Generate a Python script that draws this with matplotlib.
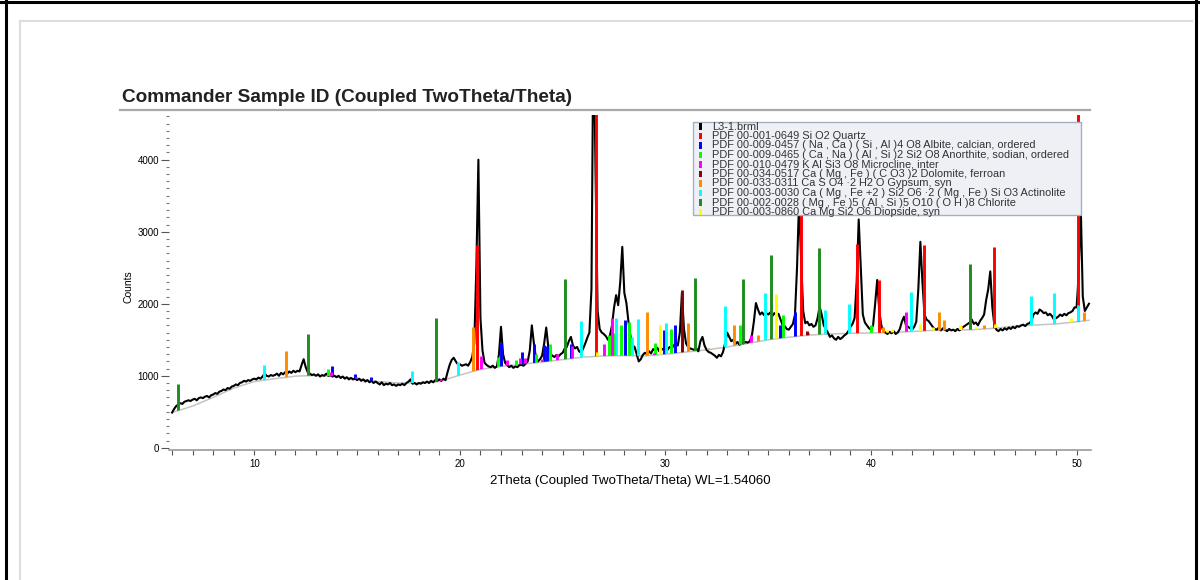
import numpy as np
import matplotlib
matplotlib.use("Agg")
import matplotlib.pyplot as plt
from matplotlib.patches import Polygon, Rectangle
from matplotlib.lines import Line2D
from matplotlib.ticker import MultipleLocator

plt.rcParams['font.family'] = ['Liberation Sans', 'DejaVu Sans']

# Scan L3-1.brml, 2Theta 6.0 - 50.6, step 0.1
two_theta = np.round(np.arange(6.0, 50.65, 0.1), 2)
counts = [
    490, 540, 580, 600, 620, 610, 640, 650, 660, 650,            # 6
    670, 680, 660, 690, 700, 690, 710, 720, 700, 730,            # 7
    740, 760, 750, 780, 790, 810, 800, 830, 820, 850,            # 8
    860, 880, 870, 900, 910, 930, 920, 940, 930, 950,            # 9
    960, 950, 975, 960, 990, 1030, 1000, 990, 1010, 1000,        # 10
    1010, 1030, 1000, 1040, 1020, 1050, 1030, 1060, 1040, 1070,  # 11
    1050, 1070, 1060, 1150, 1230, 1120, 1050, 1030, 1010, 1020,  # 12
    1000, 1020, 990, 1010, 1000, 1030, 1000, 1010, 990, 1000,    # 13
    980, 1000, 970, 990, 960, 980, 950, 970, 950, 960,           # 14
    940, 960, 930, 950, 920, 940, 910, 930, 900, 920,            # 15
    900, 880, 910, 870, 890, 880, 900, 870, 880, 860,            # 16
    880, 870, 890, 870, 900, 920, 950, 890, 900, 880,            # 17
    900, 890, 910, 900, 920, 900, 930, 910, 940, 930,            # 18
    950, 930, 960, 940, 1050, 1150, 1220, 1250, 1200, 1160,      # 19
    1160, 1140, 1150, 1160, 1140, 1190, 1260, 1450, 2500, 4000,  # 20
    1800, 1350, 1180, 1150, 1130, 1120, 1140, 1110, 1130, 1300,  # 21
    1680, 1300, 1180, 1150, 1120, 1140, 1110, 1130, 1120, 1150,  # 22
    1150, 1140, 1170, 1200, 1350, 1700, 1450, 1250, 1200, 1230,  # 23
    1280, 1450, 1670, 1400, 1300, 1280, 1260, 1290, 1270, 1300,  # 24
    1320, 1380, 1400, 1480, 1540, 1420, 1380, 1400, 1340, 1320,  # 25
    1380, 1450, 1530, 1600, 2200, 6000, 3800, 1900, 1650, 1600,  # 26
    1580, 1550, 1500, 1560, 1700, 1950, 2120, 1980, 2300, 2790,  # 27
    2150, 2010, 1750, 1550, 1420, 1400, 1300, 1200, 1230, 1290,  # 28
    1320, 1300, 1340, 1310, 1370, 1350, 1390, 1340, 1380, 1360,  # 29
    1380, 1360, 1400, 1380, 1420, 1450, 1420, 1600, 2150, 1650,  # 30
    1450, 1400, 1380, 1370, 1360, 1380, 1340, 1480, 1540, 1420,  # 31
    1360, 1330, 1320, 1300, 1280, 1250, 1290, 1270, 1330, 1450,  # 32
    1600, 1540, 1480, 1500, 1440, 1470, 1430, 1460, 1450, 1470,  # 33
    1460, 1480, 1550, 1750, 2010, 1920, 1850, 1880, 1840, 1870,  # 34
    1850, 1880, 1830, 1870, 1840, 1860, 1780, 1700, 1690, 1650,  # 35
    1640, 1680, 1720, 1850, 2500, 3450, 2600, 1900, 1730, 1750,  # 36
    1700, 1720, 1680, 1700, 1800, 1960, 1850, 1700, 1650, 1600,  # 37
    1540, 1560, 1520, 1500, 1540, 1510, 1530, 1560, 1580, 1620,  # 38
    1680, 1720, 1800, 2300, 3170, 2500, 1850, 1740, 1700, 1660,  # 39
    1640, 1700, 2000, 2330, 1900, 1700, 1620, 1600, 1580, 1610,  # 40
    1590, 1620, 1580, 1600, 1650, 1750, 1820, 1700, 1680, 1660,  # 41
    1640, 1680, 1750, 2200, 2860, 2300, 1850, 1780, 1760, 1720,  # 42
    1680, 1650, 1640, 1670, 1630, 1660, 1640, 1620, 1650, 1630,  # 43
    1640, 1620, 1650, 1630, 1660, 1680, 1700, 1720, 1740, 1780,  # 44
    1720, 1740, 1700, 1760, 1800, 1850, 2050, 2200, 2450, 1950,  # 45
    1700, 1640, 1620, 1650, 1630, 1660, 1640, 1670, 1650, 1680,  # 46
    1660, 1690, 1680, 1700, 1710, 1690, 1720, 1730, 1760, 1850,  # 47
    1880, 1860, 1920, 1900, 1870, 1880, 1840, 1860, 1830, 1780,  # 48
    1800, 1820, 1850, 1830, 1860, 1840, 1870, 1880, 1900, 1950,  # 49
    1950, 2400, 3380, 2100, 1900, 1950, 2000,                    # 50
]

# background (gray curve)
bg_theta = [6, 7, 8, 9, 10, 11, 12, 13, 14, 15, 16, 17, 18, 19, 20, 21, 22,
            23, 24, 25, 26, 27, 28, 29, 30, 31, 32, 33, 34, 35, 36, 37, 38,
            39, 40, 41, 42, 43, 44, 45, 46, 47, 48, 49, 50, 50.6]
bg_counts = [490, 580, 700, 830, 920, 960, 995, 1005, 990, 960, 920, 900,
             900, 920, 1010, 1090, 1130, 1160, 1190, 1225, 1260, 1275, 1280,
             1275, 1300, 1330, 1360, 1400, 1450, 1500, 1535, 1565, 1580, 1590,
             1595, 1600, 1615, 1630, 1635, 1640, 1660, 1690, 1705, 1720, 1750,
             1770]

# reference patterns (stick position, top of stick in counts)
quartz_pos = [20.85, 26.62, 36.57, 39.3, 40.37, 42.6, 46.0, 50.05]
quartz_int = [2820, 9000, 3500, 2830, 2330, 2820, 2790, 9000]
albite_pos = [13.8, 14.9, 15.7, 22.0, 23.0, 23.6, 24.1, 24.25, 25.4, 28.05,
              29.95, 30.45, 35.55, 36.3]
albite_int = [1140, 1020, 990, 1460, 1330, 1440, 1430, 1420, 1440, 1780,
              1630, 1710, 1710, 1880]
anorthite_pos = [13.6, 21.87, 22.75, 23.7, 24.4, 27.27, 27.55, 27.85, 28.25,
                 29.5, 30.25, 33.65, 35.7, 40.0]
anorthite_int = [1090, 1260, 1220, 1300, 1440, 1560, 1600, 1700, 1750, 1460,
                 1650, 1710, 1850, 1700]
microcline_pos = [13.75, 14.95, 19.1, 21.05, 22.3, 22.9, 23.15, 24.0, 24.7,
                  25.45, 27.0, 27.4, 29.45, 32.4, 34.15, 36.95, 38.5, 41.7]
microcline_int = [1050, 990, 950, 1280, 1220, 1250, 1250, 1230, 1300, 1420,
                  1440, 1800, 1310, 1370, 1560, 1600, 1570, 1890]
dolomite_pos = [30.8, 36.9]
dolomite_int = [2190, 1620]
gypsum_pos = [11.55, 20.66, 29.1, 31.1, 32.05, 33.35, 34.5, 40.6, 43.3, 43.55,
              44.4, 45.5, 50.35]
gypsum_int = [1340, 1680, 1890, 1730, 1380, 1710, 1570, 1680, 1880, 1780,
              1690, 1700, 1890]
actinolite_pos = [10.45, 17.65, 19.9, 25.9, 27.6, 28.35, 28.65, 30.05, 32.9,
                  34.85, 37.75, 38.95, 41.95, 47.8, 48.9, 50.05]
actinolite_int = [1150, 1060, 1190, 1760, 1800, 1540, 1790, 1730, 1970, 2150,
                  1920, 2000, 2160, 2110, 2150, 1980]
chlorite_pos = [6.3, 12.6, 18.86, 25.1, 31.45, 33.75, 35.15, 37.45, 44.8]
chlorite_int = [880, 1580, 1800, 2350, 2360, 2350, 2670, 2780, 2550]
diopside_pos = [26.65, 29.75, 35.4, 40.8, 41.0, 42.4, 43.0, 44.35, 45.1,
                46.05, 49.75]
diopside_int = [1330, 1710, 2130, 1640, 1650, 1720, 1680, 1710, 1680, 1720,
                1800]

legend_labels = [
    'L3-1.brml',
    'PDF 00-001-0649 Si O2 Quartz',
    'PDF 00-009-0457 ( Na , Ca ) ( Si , Al )4 O8 Albite, calcian, ordered',
    'PDF 00-009-0465 ( Ca , Na ) ( Al , Si )2 Si2 O8 Anorthite, sodian, ordered',
    'PDF 00-010-0479 K Al Si3 O8 Microcline, inter',
    'PDF 00-034-0517 Ca ( Mg , Fe ) ( C O3 )2 Dolomite, ferroan',
    'PDF 00-033-0311 Ca S O4 \u00b72 H2 O Gypsum, syn',
    'PDF 00-003-0030 Ca ( Mg , Fe +2 ) Si2 O6 \u00b72 ( Mg , Fe ) Si O3 Actinolite',
    'PDF 00-002-0028 ( Mg , Fe )5 ( Al , Si )5 O10 ( O H )8 Chlorite',
    'PDF 00-003-0860 Ca Mg Si2 O6 Diopside, syn',
]
legend_colors = ['#000000', '#ff0000', '#0000ff', '#00ff00', '#ff00ff',
                 '#8b0000', '#ff8c00', '#00ffff', '#1e8c1e', '#ffff00']

phases = [
    (quartz_pos, quartz_int),
    (albite_pos, albite_int),
    (anorthite_pos, anorthite_int),
    (microcline_pos, microcline_int),
    (dolomite_pos, dolomite_int),
    (gypsum_pos, gypsum_int),
    (actinolite_pos, actinolite_int),
    (chlorite_pos, chlorite_int),
    (diopside_pos, diopside_int),
]

W, H = 1200, 580
fig = plt.figure(figsize=(12, 5.8), dpi=100)
fig.patch.set_facecolor('white')

ax = fig.add_axes([169 / W, 1 - 450 / H, (1091 - 169) / W, (450 - 115) / H])
ax.set_xlim(5.85, 50.7)
ax.set_ylim(-30, 4620)

ax.plot(bg_theta, bg_counts, color='#c4c4c4', lw=1.1, zorder=2)
ax.plot(two_theta, counts, color='black', lw=1.5, zorder=3)

# sticks go from the background curve upward: clip them to the area above it
above_bg = Polygon(list(zip(bg_theta, bg_counts)) + [(51, 20000), (5, 20000)],
                   closed=True, transform=ax.transData)
for (pos, top), color in zip(phases, legend_colors[1:]):
    sticks = ax.vlines(pos, 0, top, colors=color, lw=2.1, zorder=4)
    sticks.set_clip_path(above_bg)

for side in ['left', 'top', 'right']:
    ax.spines[side].set_visible(False)
ax.spines['bottom'].set_color('#9a9a9a')
ax.spines['bottom'].set_linewidth(1.2)

ax.xaxis.set_major_locator(MultipleLocator(10))
ax.xaxis.set_minor_locator(MultipleLocator(1))
ax.yaxis.set_major_locator(MultipleLocator(1000))
ax.yaxis.set_minor_locator(MultipleLocator(100))
ax.tick_params(axis='x', which='both', length=3.5, width=0.8, color='#555555',
               labelsize=7, pad=3)
ax.tick_params(axis='y', which='major', length=6, width=0.8, color='#555555',
               labelsize=7, pad=1)
ax.tick_params(axis='y', which='minor', length=2.2, width=0.8, color='#777777')

fig.text(128 / W, 1 - 287 / H, 'Counts', rotation=90, fontsize=7.5,
         ha='center', va='center')
fig.text(630 / W, 1 - 481 / H, '2Theta (Coupled TwoTheta/Theta) WL=1.54060',
         fontsize=9.5, ha='center', va='center')

# title and rule under it
fig.text(122 / W, 1 - 97 / H, 'Commander Sample ID (Coupled TwoTheta/Theta)',
         fontsize=13.7, fontweight='bold', color='#222222', va='center')
fig.add_artist(Line2D([120 / W, 1090 / W], [1 - 110 / H, 1 - 110 / H],
                      color='#a9a9a9', lw=1.6))

# legend box
fig.add_artist(Rectangle((693 / W, 1 - 215 / H), (1081 - 693) / W, (215 - 122) / H,
                         facecolor='#eef0f6', edgecolor='#a7aec0', lw=1,
                         transform=fig.transFigure, zorder=5))
for i, (label, color) in enumerate(zip(legend_labels, legend_colors)):
    yc = 1 - (126.5 + 9.5 * i) / H
    fig.add_artist(Rectangle((699 / W, yc - 3.2 / H), 3 / W, 6.4 / H,
                             facecolor=color, edgecolor='none',
                             transform=fig.transFigure, zorder=6))
    fig.text(712 / W, yc, label, fontsize=7.9, color='#333333', va='center',
             zorder=6)

# page frame
fig.add_artist(Line2D([0, 1], [1 - 2 / H, 1 - 2 / H], color='black', lw=2.2))
fig.add_artist(Line2D([6 / W, 6 / W], [0, 1], color='black', lw=2.2))
fig.add_artist(Line2D([1196 / W, 1196 / W], [0, 1], color='black', lw=2.2))
fig.add_artist(Line2D([20 / W, 1192 / W], [1 - 21 / H, 1 - 21 / H],
                      color='#dddddd', lw=1.5))
fig.add_artist(Line2D([20 / W, 20 / W], [0, 1 - 21 / H], color='#dddddd', lw=1.5))

fig.savefig('out.png', dpi=100)
